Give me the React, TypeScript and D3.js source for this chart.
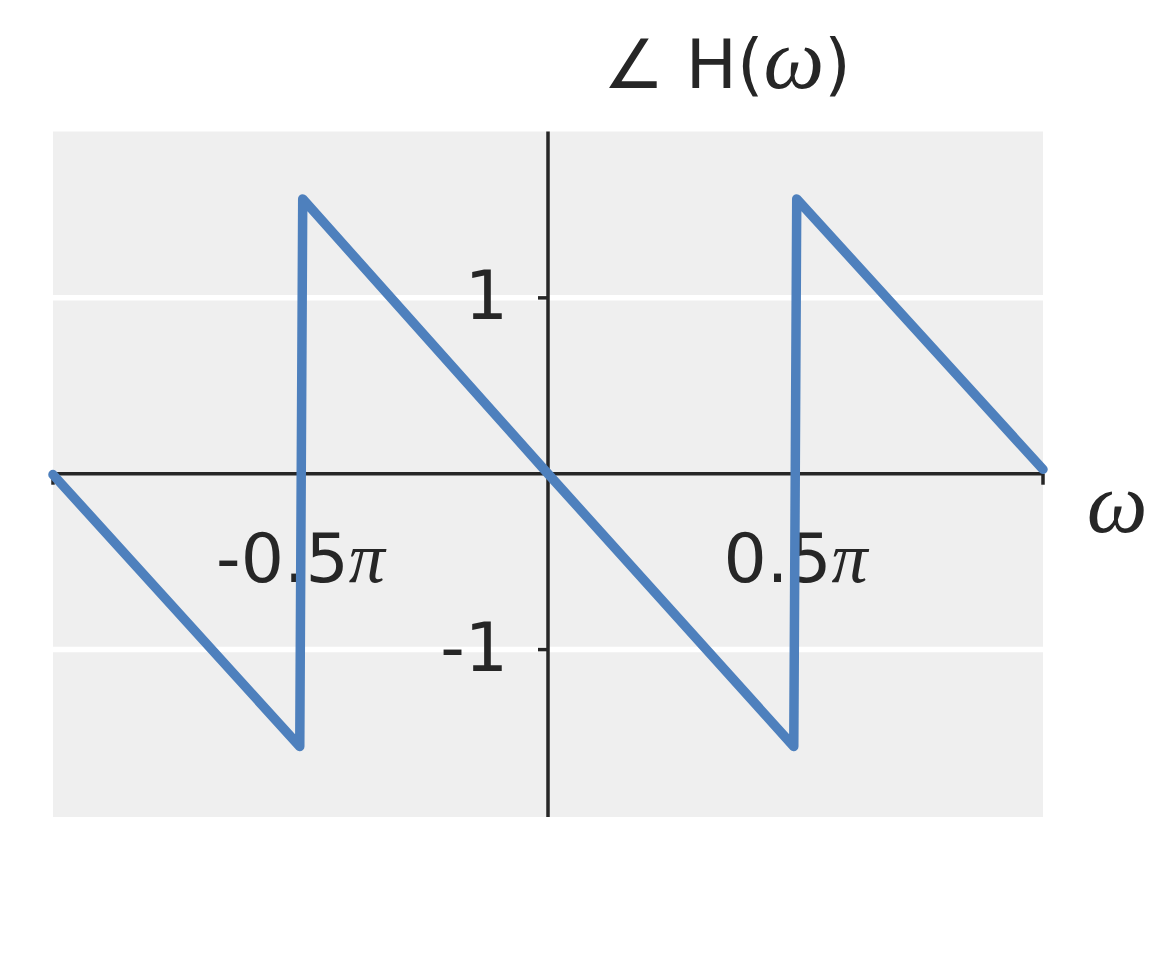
import * as d3 from 'd3';

// frequency in units of pi, phase in radians
const omegaPi = [-1, -0.5015, -0.4955, 0, 0.4965, 0.5025, 1];
const phase = [-0.005, -1.551, 1.5625, 0, -1.551, 1.5625, 0.025];

const xTicks = [-1, -0.5, 0.5, 1];
const xTickLabels = ['', '-0.5', '0.5', ''];
const yTicks = [-1, 1];
const yTickLabels = ['-1', '1'];

const W = 1152;
const H = 960;
const margin = { top: 131.5, right: 109, bottom: 143, left: 53 };

const font = "'DejaVu Sans', sans-serif";
const mathFont = "'Liberation Serif', 'DejaVu Serif', serif";
const ink = '#262626';

export default function App() {
  const x = d3.scaleLinear().domain([-1, 1]).range([margin.left, W - margin.right]);
  const y = d3.scaleLinear().domain([-1.952, 1.946]).range([H - margin.bottom, margin.top]);

  const line = d3.line<number>()
    .x((d) => x(d))
    .y((d, i) => y(phase[i]));

  const x0 = x(0);
  const y0 = y(0);

  return (
    <svg width={W} height={H} style={{ position: 'absolute', left: 0, top: 0, background: '#fff' }}>
      <rect x={x(-1)} y={margin.top} width={x(1) - x(-1)} height={H - margin.bottom - margin.top} fill="#efefef" />
      {yTicks.map((t) => (
        <line key={'g' + t} x1={x(-1)} x2={x(1)} y1={y(t)} y2={y(t)} stroke="#fff" strokeWidth={5.5} />
      ))}

      {/* axes through the origin */}
      <line x1={x(-1)} x2={x(1)} y1={y0} y2={y0} stroke={ink} strokeWidth={3.5} />
      <line x1={x0} x2={x0} y1={margin.top} y2={H - margin.bottom} stroke={ink} strokeWidth={3.5} />

      {xTicks.map((t, i) => (
        <g key={'x' + t}>
          <line x1={x(t)} x2={x(t)} y1={y0} y2={y0 + 11} stroke={ink} strokeWidth={3.5} />
          {xTickLabels[i] && (
            <text x={x(t)} y={y0 + 108} textAnchor="middle" fontFamily={font} fontSize={68} fill={ink}>
              {xTickLabels[i]}
              <tspan fontFamily={mathFont} fontStyle="italic" fontSize={72}>π</tspan>
            </text>
          )}
        </g>
      ))}
      {yTicks.map((t, i) => (
        <g key={'y' + t}>
          <line x1={x0 - 10} x2={x0} y1={y(t)} y2={y(t)} stroke={ink} strokeWidth={3.5} />
          <text x={x0 - 40} y={y(t) + 21} textAnchor="end" fontFamily={font} fontSize={68} fill={ink}>
            {yTickLabels[i]}
          </text>
        </g>
      ))}

      <path d={line(omegaPi) ?? ''} fill="none" stroke="#4e80bd" strokeWidth={9.5}
        strokeLinejoin="round" strokeLinecap="round" />

      <text x={727} y={88} textAnchor="middle" fontFamily={font} fontSize={68} fill={ink}>
        ∠ H(<tspan fontFamily={mathFont} fontStyle="italic" fontSize={86}>ω</tspan>)
      </text>
      <text x={1117} y={532} textAnchor="middle" fontFamily={mathFont} fontStyle="italic" fontSize={86} fill={ink}>
        ω
      </text>
    </svg>
  );
}
